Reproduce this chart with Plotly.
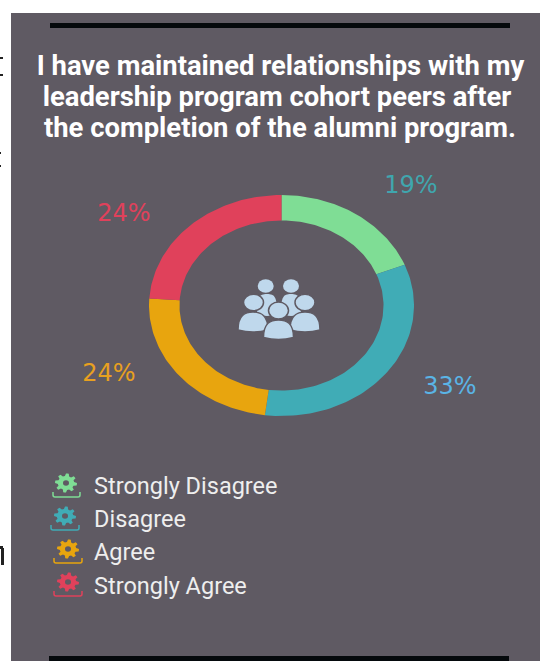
import numpy as np
import plotly.graph_objects as go

# chart data
categories = ["Strongly Disagree", "Disagree", "Agree", "Strongly Agree"]
shares = [19, 33, 24, 24]
percent_labels = ["19%", "33%", "24%", "24%"]
title_lines = [
    "I have maintained relationships with my",
    "leadership program cohort peers after",
    "the completion of the alumni program.",
]

# styles
slice_colors = ["#7fdd95", "#40acb6", "#e8a50e", "#e0415b"]
label_colors = ["#3fa6ae", "#5ab4e6", "#e8a020", "#e0415b"]
panel_color = "#5f5a63"
icon_color = "#bfd8ec"
hole = 0.77

W, H = 540, 661


def ring_slice(start, end):
    """Outline of one donut slice, angles clockwise from twelve o'clock"""
    t = np.linspace(start, end, 80)
    xs = np.concatenate([np.sin(t), hole * np.sin(t[::-1])])
    ys = np.concatenate([np.cos(t), hole * np.cos(t[::-1])])
    return xs, ys


def oval(cx, cy, rx, ry, fill, line=None):
    return dict(
        type="circle", xref="x", yref="y",
        x0=cx - rx, x1=cx + rx, y0=cy - ry, y1=cy + ry,
        fillcolor=fill, line=dict(color=line or fill, width=1.5 if line else 0),
    )


def body(x0, x1, y0, y1, line=None):
    # rounded shoulders with a nearly flat bottom
    xm = (x0 + x1) / 2
    path = (
        f"M {x0} {y1 - 2} C {x0} {y0 + 3} {xm - 8} {y0} {xm} {y0} "
        f"C {xm + 8} {y0} {x1} {y0 + 3} {x1} {y1 - 2} "
        f"Q {xm} {y1 + 2} {x0} {y1 - 2} Z"
    )
    return dict(
        type="path", xref="x", yref="y", path=path, fillcolor=icon_color,
        line=dict(color=line or icon_color, width=1.5 if line else 0),
    )


def gear(cx, cy, color):
    t = np.linspace(0, 2 * np.pi, 48, endpoint=False)
    r = np.where((np.arange(48) % 6) < 3, 1.0, 0.74)
    pts = [f"{cx + 11 * a * np.sin(b):.1f} {cy - 9.5 * a * np.cos(b):.1f}" for a, b in zip(r, t)]
    return dict(
        type="path", xref="x", yref="y", path="M " + " L ".join(pts) + " Z",
        fillcolor=color, line=dict(width=0),
    )


def tray(x0, x1, y0, y1, color):
    path = f"M {x0} {y0} L {x0} {y1 - 2} Q {x0} {y1} {x0 + 2} {y1} L {x1 - 2} {y1} Q {x1} {y1} {x1} {y1 - 2} L {x1} {y0}"
    return dict(type="path", xref="x", yref="y", path=path, line=dict(color=color, width=1.5))


def scrap(x0, x1, y0, y1):
    # dark remains of the page text left of the panel
    return dict(type="rect", xref="x", yref="y", x0=x0, x1=x1, y0=y0, y1=y1,
                fillcolor="#222222", line=dict(width=0))


fig = go.Figure()

# donut, the second axes pair stretches it the way the picture does
edges = np.cumsum([0] + shares) / sum(shares) * 2 * np.pi
for i, name in enumerate(categories):
    xs, ys = ring_slice(edges[i], edges[i + 1])
    fig.add_trace(
        go.Scatter(
            x=xs, y=ys, mode="lines", fill="toself", name=name,
            fillcolor=slice_colors[i], line=dict(width=0),
            xaxis="x2", yaxis="y2", hoverinfo="name",
        )
    )

# percent labels
fig.add_trace(
    go.Scatter(
        x=[411, 450, 109, 124], y=[187, 388, 375, 215], mode="text",
        text=percent_labels,
        textfont=dict(family="DejaVu Sans", size=24, color=label_colors),
        hoverinfo="skip",
    )
)
# legend text
fig.add_trace(
    go.Scatter(
        x=[94, 94, 94, 94], y=[488, 521, 554, 588], mode="text",
        text=categories, textposition="middle right",
        textfont=dict(family="Roboto", size=23.5, color="#eeeeee"),
        hoverinfo="skip",
    )
)
# title
fig.add_trace(
    go.Scatter(
        x=[280.5, 277, 280], y=[68, 99, 130], mode="text",
        text=title_lines,
        textfont=dict(family="Roboto", size=27.4, color="white", weight=700),
        hoverinfo="skip",
    )
)

shapes = [
    dict(type="rect", xref="x", yref="y", x0=11, x1=W, y0=13, y1=H,
         fillcolor=panel_color, line=dict(width=0), layer="below"),
    dict(type="rect", xref="x", yref="y", x0=50, x1=510, y0=23, y1=28,
         fillcolor="#05090c", line=dict(width=0)),
    dict(type="rect", xref="x", yref="y", x0=49, x1=509, y0=656, y1=661,
         fillcolor="#05090c", line=dict(width=0)),
    # people icon in the middle of the ring
    oval(265.7, 286, 8, 6.8, icon_color),
    oval(291, 286, 8, 6.8, icon_color),
    body(257, 277, 294, 316),
    body(281, 301, 294, 316),
    oval(253.5, 302.5, 10, 8.2, icon_color, panel_color),
    oval(305, 302.5, 10, 8.2, icon_color, panel_color),
    body(238, 268, 312, 332, panel_color),
    body(290, 320, 312, 332, panel_color),
    oval(278.5, 310.5, 10, 8.5, icon_color, panel_color),
    body(263.5, 293.5, 320, 339.5, panel_color),
    # cut off marks at the left edge of the page
    scrap(0, 3, 57, 59),
    scrap(0, 3, 74, 76),
    scrap(0, 1, 152, 154),
    scrap(0, 1, 165, 167),
    scrap(0, 3, 546, 549),
    scrap(1, 4, 548, 565),
]

# legend icons
gears = [(66, 483), (65, 516), (68, 549), (68, 582)]
trays = [(53, 80, 492, 497), (51, 79, 525, 530), (54, 82, 558, 563), (54, 82, 591, 596)]
for (cx, cy), tr, color in zip(gears, trays, slice_colors):
    shapes.append(gear(cx, cy, color))
    shapes.append(oval(cx, cy, 3, 2.8, panel_color))
    shapes.append(tray(*tr, color))

fig.update_layout(
    width=W,
    height=H,
    margin=dict(l=0, r=0, t=0, b=0),
    paper_bgcolor="white",
    plot_bgcolor="rgba(0,0,0,0)",
    showlegend=False,
    shapes=shapes,
    xaxis=dict(range=[0, W], domain=[0, 1], visible=False, fixedrange=True),
    yaxis=dict(range=[H, 0], domain=[0, 1], visible=False, fixedrange=True),
    xaxis2=dict(range=[-1, 1], domain=[149 / W, 414 / W], visible=False, anchor="y2", fixedrange=True),
    yaxis2=dict(range=[-1, 1], domain=[1 - 416 / H, 1 - 195 / H], visible=False, anchor="x2", fixedrange=True),
)

fig.write_html(
    "out.html",
    config=dict(displayModeBar=False),
    post_script="document.body.style.margin='0';document.body.style.overflow='hidden';",
)
